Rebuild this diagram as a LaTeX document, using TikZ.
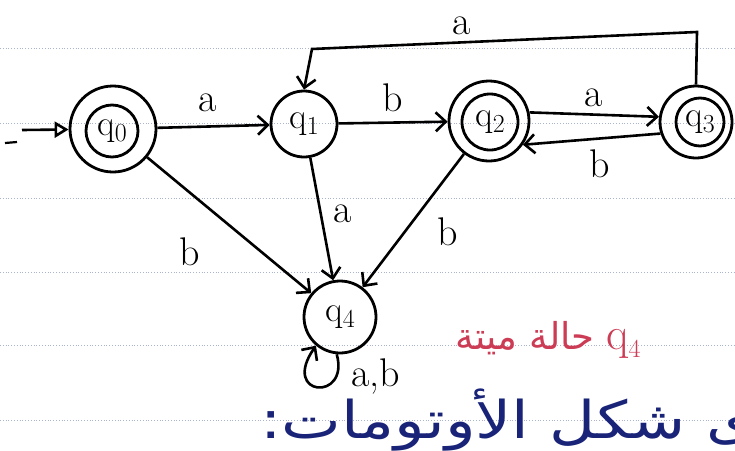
\documentclass[tikz,border=0pt]{standalone}
\usepackage{fontspec}
\newfontfamily\arabicfont[Script=Arabic]{DejaVu Sans}
\TeXXeTstate=1
\usetikzlibrary{arrows.meta}
\definecolor{inkred}{RGB}{205,60,85}
\definecolor{inkblue}{RGB}{25,35,120}
\definecolor{rule}{RGB}{170,180,205}
\newcommand{\qsub}[1]{q\raisebox{-0.18em}{\fontsize{26}{26}\selectfont #1}}
\begin{document}
\begin{tikzpicture}[x=1pt,y=-1pt,
  state/.style={draw, circle, line width=2.8pt, inner sep=0pt},
  tr/.style={line width=2.6pt, -{Straight Barb[length=10pt,width=19pt,line width=2.6pt]}},
  lbl/.style={font=\fontsize{40}{40}\selectfont, inner sep=0pt},
  slbl/.style={font=\fontsize{36}{36}\selectfont}]
\useasboundingbox (0,0) rectangle (735,450);
\clip (0,0) rectangle (735,450);
\fill[white] (0,0) rectangle (735,450);
% notebook rulings
\foreach \yy in {48,123,198,272,345,420}
  \draw[rule, dotted, line width=0.8pt] (0,\yy) -- (735,\yy);
% states
\node[state, minimum size=86pt] (q0) at (113,129) {};
\node[state, minimum size=52pt, slbl] (q0i) at (112,131) {\qsub{0}};
\node[state, minimum size=66pt, slbl] (q1) at (304,124) {\qsub{1}};
\node[state, minimum size=80pt] (q2) at (489,121) {};
\node[state, minimum size=56pt, slbl] (q2i) at (490,122) {\qsub{2}};
\node[state, minimum size=72pt] (q3) at (696,122) {};
\node[state, minimum size=48pt, slbl] (q3i) at (700,122) {\qsub{3}};
\node[state, minimum size=72pt, slbl] (q4) at (340,317) {\qsub{4}};
% initial arrow
\coordinate (init) at (22,130);
\draw[line width=2.6pt, -{Triangle[open, length=14pt, width=16pt, line width=2.6pt]}] (init) -- (q0);
\coordinate (m1) at (5,143);
\coordinate (m2) at (17,142);
\draw[line width=2.2pt] (m1) -- (m2);
% transitions
\draw[tr] (q0) -- (q1);
\draw[tr] (q1) -- (q2);
\draw[tr] (q2.12) -- (q3.172);
\draw[tr] (q3.-162) -- (q2.-35);
\coordinate (t1) at (697,32);
\coordinate (t2) at (312,49);
\draw[tr] (q3.north) -- (t1) -- (t2) -- (q1.north);
\draw[tr] (q0) -- (q4);
\draw[tr] (q1) -- (q4);
\draw[tr] (q2) -- (q4);
\draw[tr] (q4.-95) .. controls (350,402) and (280,397) .. (q4.-130);
% labels
\node[lbl] (la01) at (208,103) {a};
\node[lbl] (lb12) at (393,98) {b};
\node[lbl] (la23) at (594,98) {a};
\node[lbl] (lb32) at (600,164) {b};
\node[lbl] (la31) at (462,26) {a};
\node[lbl] (lb04) at (190,252) {b};
\node[lbl] (la14) at (343,214) {a};
\node[lbl] (lb24) at (448,232) {b};
\node[lbl] (lab4) at (376,376) {a,b};
% notes
\node[text=inkred, inner sep=0pt] (dead) at (548,340)
  {\arabicfont\fontsize{37}{37}\selectfont\beginR\beginL{\rmfamily\fontsize{46}{46}\selectfont\qsub{4}}\endL{} حالة ميتة\endR};
\node[text=inkblue, anchor=east, inner sep=0pt] (title) at (756,420)
  {\scalebox{1.22}[1]{\arabicfont\fontsize{52}{52}\selectfont\beginR ى شكل الأوتومات:\endR}};
\end{tikzpicture}
\end{document}
